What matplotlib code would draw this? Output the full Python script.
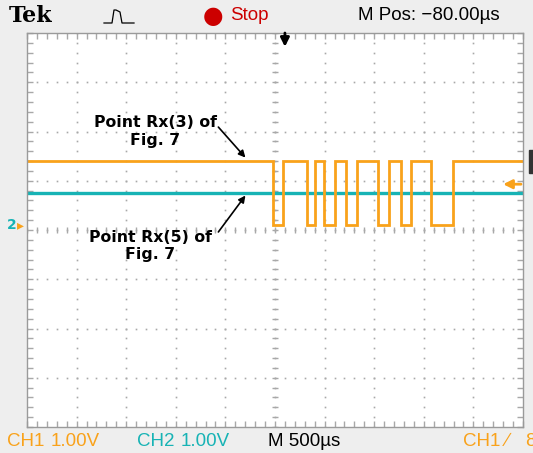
import numpy as np
import matplotlib.pyplot as plt
from matplotlib.patches import Rectangle

# scope settings: 500 us/div, 1 V/div, 10 x 8 divisions
time_span = (-2500, 2500)   # us
volt_span = (-4, 4)         # V

# CH1 (orange) edges in us, starts high
ch1_edges = [-25, 85, 320, 400, 490, 600, 720, 825, 1035, 1145,
             1270, 1370, 1570, 1795]
ch1_high = 1.40
ch1_low = 0.10
# CH2 (cyan) stays flat
ch2_level = 0.75

orange = "#f9a21b"
cyan = "#17b3b5"
grid_col = "#a8a8a8"

W, H = 533, 453


def px(x, y):
    return x / W, 1 - y / H


fig = plt.figure(figsize=(W / 100, H / 100), dpi=100)
fig.patch.set_facecolor("#eeeeee")
ax = fig.add_axes([27 / W, 26 / H, 496 / W, 394 / H])
ax.set_facecolor("white")
ax.set_xlim(*time_span)
ax.set_ylim(*volt_span)

for s in ax.spines.values():
    s.set_color("#9a9a9a")
    s.set_linewidth(1)

# minor ticks on the frame
ax.set_xticks(np.arange(-2500, 2501, 100))
ax.set_yticks(np.arange(-4, 4.01, 0.2))
ax.tick_params(direction="in", length=4, color=grid_col, width=1,
               top=True, right=True, labelbottom=False, labelleft=False)

# dotted graticule
minor_x = np.arange(-2500, 2501, 100)
minor_y = np.arange(-4, 4.01, 0.2)
for xv in range(-2000, 2001, 500):
    ax.plot(np.full(len(minor_y), xv), minor_y, ls="none", marker="s",
            ms=1.2, color=grid_col, mew=0)
for yv in range(-3, 4):
    ax.plot(minor_x, np.full(len(minor_x), yv), ls="none", marker="s",
            ms=1.2, color=grid_col, mew=0)
# center cross tick marks
ax.plot(minor_x, np.zeros(len(minor_x)), ls="none", marker="|", ms=4,
        color=grid_col, mew=1)
ax.plot(np.zeros(len(minor_y)), minor_y, ls="none", marker="_", ms=4,
        color=grid_col, mew=1)

# CH1 trace
t = [time_span[0]]
v = [ch1_high]
level = ch1_high
for e in ch1_edges:
    nxt = ch1_low if level == ch1_high else ch1_high
    t += [e, e]
    v += [level, nxt]
    level = nxt
t.append(time_span[1])
v.append(level)
ax.plot(time_span, [ch2_level, ch2_level], color=cyan, lw=2.4,
        solid_capstyle="butt")
ax.plot(t, v, color=orange, lw=2.0, solid_joinstyle="miter")

# annotations
txt = dict(fontsize=11.3, fontweight="bold", ha="center", va="center",
           family="DejaVu Sans")
arr = dict(arrowstyle="-|>", color="black", lw=1.2, mutation_scale=10,
           shrinkA=0, shrinkB=0)
ax.text(-1207, 2.0, "Point Rx(3) of\nFig. 7", **txt)
ax.annotate("", xy=(-298, 1.47), xytext=(-571, 2.09), arrowprops=arr)
ax.text(-1258, -0.32, "Point Rx(5) of\nFig. 7", **txt)
ax.annotate("", xy=(-298, 0.70), xytext=(-571, -0.04), arrowprops=arr)

# trigger position marker (top) and trigger level (right)
ax.annotate("", xy=(100, 3.72), xytext=(100, 4.0), clip_on=False,
            arrowprops=dict(arrowstyle="-|>", color="black", lw=2.0,
                            mutation_scale=13, shrinkA=0, shrinkB=0))
ax.annotate("", xy=(2300, 0.93), xytext=(2480, 0.93),
            arrowprops=dict(arrowstyle="-|>", color=orange, lw=2.0,
                            mutation_scale=13, shrinkA=0, shrinkB=0))

# header
fig.text(*px(9, 16), "Tek", family="DejaVu Serif", fontweight="bold",
         fontsize=16, va="center", ha="left")
pulse_x = [104, 112, 114, 116, 120, 122, 124, 134]
pulse_y = [23, 23, 10, 10, 12, 23, 23, 23]
fig.add_artist(plt.Line2D([p / W for p in pulse_x],
                          [1 - p / H for p in pulse_y], color="black", lw=0.9))
fig.text(*px(203, 16), "\u25cf", color="#cc0000", fontsize=17,
         va="center", ha="left")
fig.text(*px(230, 16), "Stop", color="#cc0000", fontsize=13.5,
         family="Liberation Sans", va="center", ha="left")
fig.text(*px(358, 16), "M Pos: \u221280.00\u00b5s", color="black",
         fontsize=13.5, family="Liberation Sans", va="center", ha="left")

# footer
foot = dict(fontsize=13.5, family="Liberation Sans", va="center", ha="left")
fig.text(*px(7, 441), "CH1", color=orange, **foot)
fig.text(*px(100, 441), "1.00V", color=orange,
         **{**foot, "ha": "right"})
fig.text(*px(137, 441), "CH2", color=cyan, **foot)
fig.text(*px(230, 441), "1.00V", color=cyan, **{**foot, "ha": "right"})
fig.text(*px(268, 441), "M 500\u00b5s", color="black", **foot)
fig.text(*px(463, 441), "CH1", color=orange, **foot)
fig.text(*px(506, 441), "\u2215", color=orange, **foot)
fig.text(*px(525, 441), "8", color=orange, **foot)

# channel ground markers
fig.text(*px(7, 225), "2", color=cyan, fontsize=10, fontweight="bold",
         va="center", ha="left")
fig.text(*px(17, 225), "\u25b8", color=orange, fontsize=10,
         va="center", ha="left")
fig.add_artist(Rectangle(px(529, 173), 4 / W, 23 / H, color="#333333"))

fig.savefig("out.png", dpi=100, facecolor=fig.get_facecolor())
